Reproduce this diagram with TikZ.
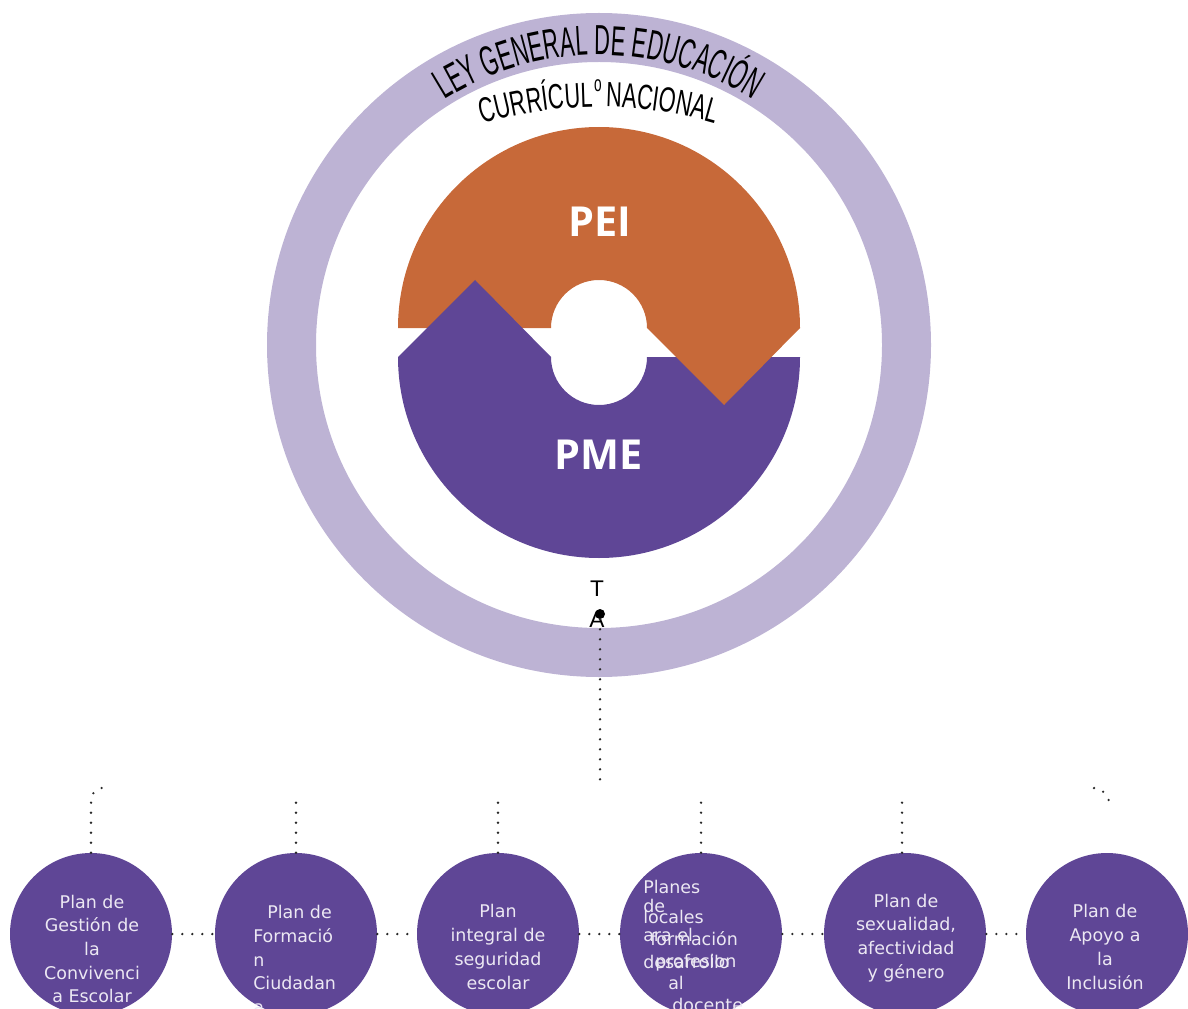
\documentclass[tikz,border=0pt]{standalone}
\usepackage{fontspec}
\usetikzlibrary{decorations.text}
\newfontfamily\leyfont[FakeStretch=0.52]{Liberation Sans}
\newfontfamily\curfont[FakeStretch=0.62]{Liberation Sans}
\newfontfamily\bigfont{Open Sans}
\newfontfamily\circfont{DejaVu Sans}
\newfontfamily\tafont{Liberation Sans}
\definecolor{ringc}{HTML}{BDB3D4}
\definecolor{orangec}{HTML}{C76939}
\definecolor{purplec}{HTML}{5F4696}
\definecolor{txtc}{HTML}{ECE8F3}
\definecolor{dotc}{HTML}{2A2A2A}
\newcommand\leystyle{\leyfont\fontsize{31.5pt}{32pt}\selectfont}
\newcommand\curstyle{\curfont\fontsize{26.25pt}{27pt}\selectfont}
\tikzset{
  plancircle/.style={circle, fill=purplec, minimum size=121.5pt, inner sep=0pt},
  plantext/.style={text=txtc, inner sep=0pt, font=\circfont\fontsize{13.1pt}{17.8pt}\selectfont},
  dotline/.style={draw=dotc, line width=1.9pt, dash pattern=on 0pt off 7.5pt, line cap=round},
  bigtext/.style={text=white, inner sep=0pt, font=\bigfont\bfseries\fontsize{31pt}{33pt}\selectfont},
  smalltext/.style={text=black, inner sep=0pt, font=\tafont\fontsize{17pt}{18pt}\selectfont},
}
\begin{document}
\begin{tikzpicture}[x=0.75pt,y=-0.75pt]
\useasboundingbox (0,0) rectangle (1188,1009);
\clip (0,0) rectangle (1188,1009);
% outer ring
\fill[ringc, even odd rule] (599,345) circle[radius=249pt] (599,345) circle[radius=212.25pt];
% orange upper half
\fill[orangec] (398,328) arc[start angle=180, end angle=0, radius=150.75pt] -- (647,328)
  arc[start angle=0, end angle=180, radius=36pt] -- cycle;
% purple lower half with arrow peak
\fill[purplec] (398,357) arc[start angle=180, end angle=360, radius=150.75pt] -- (647,357)
  arc[start angle=0, end angle=-180, radius=36pt] -- (551,357) -- (475,280) -- cycle;
% orange arrow point
\fill[orangec] (647,328) -- (724,405) -- (800,328) -- cycle;
% curved titles
\path[decorate, decoration={text along path, text={|\leystyle|LEY GENERAL DE EDUCACIÓN}, text align=center}]
  (599,345) ++(150:217.5pt) arc[start angle=150, end angle=30, radius=217.5pt];
\path[decorate, decoration={text along path, text={|\curstyle|CURRÍCUL}, text align=right}]
  (600,520) ++(120:309.75pt) arc[start angle=120, end angle=90.97, radius=309.75pt];
\path[decorate, decoration={text along path, text={|\curstyle|NACIONAL}, text align=left}]
  (600,520) ++(89.17:309.75pt) arc[start angle=89.17, end angle=60, radius=309.75pt];
\node[inner sep=0pt, font=\curfont\fontsize{16.5pt}{17pt}\selectfont] (smallo) at (598,86) {o};
% PEI / PME
\node[bigtext] (pei) at (600,222) {PEI};
\node[bigtext] (pme) at (599,455) {PME};
% T A and dot
\node[smalltext] (tt) at (597,589) {T};
\node[smalltext] (aa) at (597,620) {A};
\node[circle, fill=black, inner sep=0pt, minimum size=7.5pt] (dot) at (600,614) {};
\coordinate (c0end) at (600,784);
\draw[dotline] (dot) -- (c0end);
% bottom circles
\node[plancircle] (c1) at (91,934) {};
\node[plancircle] (c2) at (296,934) {};
\node[plancircle] (c3) at (498,934) {};
\node[plancircle] (c4) at (701,934) {};
\node[plancircle] (c5) at (905,934) {};
\node[plancircle] (c6) at (1107,934) {};
% circle texts
\node[plantext, align=center] (t1) at (92,949) {Plan de\\Gestión de\\la\\Convivenci\\a Escolar};
\node[plantext, align=left, anchor=west] (t2) at (253,959.5) {\hspace*{10.5pt}Plan de\\Formació\\n\\Ciudadan\\a};
\node[plantext, align=center] (t3) at (498,947) {Plan\\integral de\\seguridad\\escolar};
\node[plantext, align=left, anchor=west, font=\circfont\fontsize{13.1pt}{18pt}\selectfont] (t4a) at (643,924)
  {Planes\\[-3.75pt]de\\[3.75pt]ara el\\[2.25pt]desarrollo};
\node[plantext, align=left, anchor=west, font=\circfont\fontsize{13.1pt}{16.5pt}\selectfont] (t4b) at (643,960.5)
  {locales\\\hspace*{5.25pt}formación\\\hspace*{9pt}profesion\\\hspace*{18.75pt}al\\\hspace*{21.75pt}docente};
\node[plantext, align=center] (t5) at (906,938) {Plan de\\sexualidad,\\afectividad\\y género};
\node[plantext, align=center] (t6) at (1105,947) {Plan de\\Apoyo a\\la\\Inclusión};
% connectors
\draw[dotline] (c1.east) -- (c2.west);
\draw[dotline] (c2.east) -- (c3.west);
\draw[dotline] (c3.east) -- (c4.west);
\draw[dotline] (c4.east) -- (c5.west);
\draw[dotline] (c5.east) -- (c6.west);
\coordinate (b1) at (108,787);
\draw[dotline] (c1.north) -- (91,803) .. controls (91,792) and (96,788) .. (b1);
\coordinate (v2) at (296,793);
\coordinate (v3) at (498,797);
\coordinate (v4) at (701,797);
\coordinate (v5) at (902,797);
\draw[dotline] (c2.north) -- (v2);
\draw[dotline] (c3.north) -- (v3);
\draw[dotline] (c4.north) -- (v4);
\draw[dotline] ([xshift=-2.25pt]c5.north) -- (v5);
\coordinate (b6s) at (1094,788);
\coordinate (b6e) at (1110,804);
\draw[dotline] (b6s) .. controls (1103,788) and (1108,797) .. (b6e);
\end{tikzpicture}
\end{document}
